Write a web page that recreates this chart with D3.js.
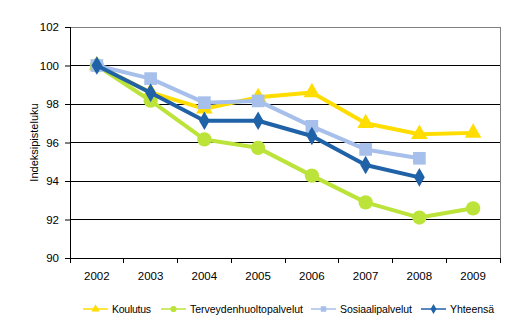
<!DOCTYPE html>
<html><head><meta charset="utf-8">
<script src="https://cdn.jsdelivr.net/npm/d3@7"></script>
<style>body{margin:0;background:#fff}svg{display:block;font-family:"Liberation Sans",Arial,sans-serif}</style>
</head><body><svg id="c" width="515" height="326"></svg>
<script>
const years = ["2002","2003","2004","2005","2006","2007","2008","2009"];
const koulutus = [100, 98.6, 97.75, 98.35, 98.6, 97.0, 96.43, 96.5];
const terveys = [100, 98.17, 96.16, 95.72, 94.28, 92.89, 92.1, 92.58];
const sosiaali = [100, 99.32, 98.07, 98.16, 96.84, 95.64, 95.18, null];
const yhteensa = [100, 98.58, 97.13, 97.13, 96.34, 94.83, 94.19, null];
const seriesNames = ["Koulutus","Terveydenhuoltopalvelut","Sosiaalipalvelut","Yhteensä"];
const yTicks = [90,92,94,96,98,100,102];
const yTitle = "Indeksipisteluku";

const series = [
  {name: seriesNames[0], values: koulutus, color: "#FFDD00", sym: d3.symbolTriangle, size: 120, tl: 39},
  {name: seriesNames[1], values: terveys, color: "#BBE33A", sym: d3.symbolCircle, size: 160, tl: 113},
  {name: seriesNames[2], values: sosiaali, color: "#A7BFEB", sym: d3.symbolSquare, size: 160, tl: 72},
  {name: seriesNames[3], values: yhteensa, color: "#1F62A8", sym: d3.symbolDiamond, size: 100, tl: 44}
];

const svg = d3.select("#c");
const L = 70, R = 500, T = 27, B = 258;
const x = d3.scaleBand().domain(years).range([L, R]);
const y = d3.scaleLinear().domain([90, 102]).range([B, T]);

svg.append("g").selectAll("line").data(yTicks.filter(v => v > 90 && v < 102)).join("line")
  .attr("x1", L).attr("x2", R).attr("y1", d => y(d)).attr("y2", d => y(d))
  .attr("stroke", "#000").attr("stroke-width", 1).attr("shape-rendering","crispEdges");
svg.append("path").attr("d", `M${L},${y(102)}H${R}V${B}`).attr("fill","none")
  .attr("stroke","#808080").attr("stroke-width",1).attr("shape-rendering","crispEdges");

const ya = svg.append("g").attr("transform", `translate(${L},0)`)
  .call(d3.axisLeft(y).tickValues(yTicks).tickSize(5).tickPadding(6));
ya.select(".domain").attr("stroke","#000").attr("shape-rendering","crispEdges");
ya.selectAll("text").attr("font-size", 11.5).attr("fill","#000");
const xa = svg.append("g").attr("transform", `translate(0,${B})`)
  .call(d3.axisBottom(x).tickSize(0).tickPadding(14));
xa.select(".domain").attr("stroke","#000").attr("shape-rendering","crispEdges");
xa.selectAll("text").attr("font-size", 11.5).attr("fill","#000");
svg.append("g").selectAll("line").data(years.concat(["end"])).join("line")
  .attr("x1", (d,i) => L + i * x.bandwidth()).attr("x2", (d,i) => L + i * x.bandwidth())
  .attr("y1", B).attr("y2", B + 5).attr("stroke","#000").attr("shape-rendering","crispEdges");

svg.append("text").attr("transform", `translate(38,${(T+B)/2}) rotate(-90)`)
  .attr("text-anchor","middle").attr("font-size", 11).text(yTitle);

const cx = d => x(d) + x.bandwidth()/2;
const line = d3.line().defined(d => d[1] != null).x(d => cx(d[0])).y(d => y(d[1]));

series.forEach(s => {
  const pts = years.map((yr,i) => [yr, s.values[i]]);
  svg.append("path").attr("d", line(pts)).attr("fill","none")
    .attr("stroke", s.color).attr("stroke-width", 4).attr("stroke-linejoin","round");
  svg.append("g").selectAll("path").data(pts.filter(p => p[1] != null)).join("path")
    .attr("transform", p => `translate(${cx(p[0])},${y(p[1])})`)
    .attr("d", d3.symbol().type(s.sym).size(s.size)).attr("fill", s.color);
});

const legX = [83, 161, 311, 421];
const legY = 309;
series.forEach((s,i) => {
  const g = svg.append("g").attr("transform", `translate(${legX[i]},${legY})`);
  g.append("line").attr("x1",0).attr("x2",25).attr("y1",0).attr("y2",0)
    .attr("stroke", s.color).attr("stroke-width", 1.5);
  g.append("path").attr("transform","translate(12.5,0)")
    .attr("d", d3.symbol().type(s.sym).size(30)).attr("fill", s.color);
  g.append("text").attr("x", 29).attr("y", 4).attr("font-size", 10.5)
    .attr("textLength", s.tl).attr("lengthAdjust","spacing").text(s.name);
});
</script></body></html>
